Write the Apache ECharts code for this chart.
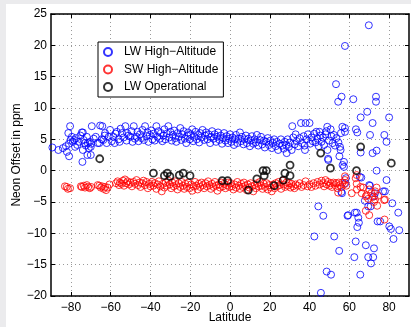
<!DOCTYPE html>
<html>
<head>
<meta charset="utf-8">
<script src="https://cdn.jsdelivr.net/npm/echarts@6/dist/echarts.min.js"></script>
<style>
  html, body { margin: 0; padding: 0; background: #ebebed; }
  #paper { position: absolute; left: 6px; top: 4px; width: 405px; height: 323px; background: #fff; }
  #main { position: absolute; left: 0; top: 0; width: 411px; height: 327px; }
</style>
</head>
<body>
<div id="paper"></div>
<div id="main"></div>
<script>
// tick labels
const xTicks = [-80, -60, -40, -20, 0, 20, 40, 60, 80];
const yTicks = [-20, -15, -10, -5, 0, 5, 10, 15, 20, 25];

// LW High-Altitude  [latitude, offset ppm]
const lwHigh = [
  [-89.3,3.7],[-86.3,3.3],[-84,3.6],[-82.5,3.9],[-82,3.0],[-81.3,6.0],[-81,4.3],[-80.9,2.3],[-80.4,7.1],[-80.2,4.9],
  [-79.5,5.4],[-79,4.6],[-78.4,4.9],[-77.9,3.8],[-77.5,5.2],[-76.8,4.1],[-76,4.6],[-75.2,5.6],[-74.5,6.1],[-74.2,1.4],
  [-74,3.3],[-74,6.1],[-73.6,4.9],[-73,4.4],[-72.5,4.0],[-72,5.4],[-71.7,2.5],[-71.5,4.4],[-71,3.6],[-70.5,4.6],
  [-70,2.5],[-70,3.8],[-69.8,4.3],[-69.5,7.1],[-68.5,5.1],[-67.5,5.4],[-66.5,4.4],[-65.7,4.4],[-65.3,7.2],[-64.5,5.0],
  [-64.2,7.1],[-63.7,4.9],[-63,5.6],[-62.8,6.0],[-62,4.4],[-61,5.4],[-60.3,6.5],[-59.5,4.7],[-58.6,5.4],[-58,4.4],
  [-57.5,5.9],[-56.9,6.2],[-56,5.0],[-55.5,4.6],[-55,6.7],[-54.3,6.0],[-53.5,5.3],[-52.6,7.1],[-52,4.8],[-51.8,6.0],
  [-51,5.6],[-50,5.4],[-49.5,6.3],[-49,4.6],[-48.4,7.1],[-47.8,5.1],[-47,5.4],[-46.5,6.2],[-46,4.7],[-45.3,5.8],
  [-44.5,5.2],[-44,6.5],[-43.3,4.9],[-42.7,7.1],[-42,5.5],[-41.5,6.1],[-41,4.6],[-40.3,5.7],[-39.5,6.4],[-39,5.0],
  [-38.5,5.9],[-37.8,4.8],[-37,7.1],[-36.5,5.4],[-36,6.3],[-35.3,5.1],[-34.7,6.0],[-34,4.7],[-33.5,5.6],[-33,6.6],
  [-32.5,5.0],[-31.8,5.9],[-31,7.1],[-30.5,5.3],[-30,6.2],[-29.3,4.8],[-28.7,5.7],[-28,6.4],[-27.5,5.2],[-27,4.6],
  [-26.3,6.0],[-25.7,5.4],[-25,6.8],[-24.5,4.9],[-24,5.8],[-23.3,6.3],[-22.7,5.1],[-22,4.4],[-21.5,5.6],[-21,6.1],
  [-20.3,5.0],[-19.7,5.8],[-19,6.6],[-18.5,4.7],[-18,5.4],[-17.3,6.2],[-16.7,5.0],[-16,5.7],[-15.5,4.5],[-15,6.0],
  [-14.3,5.3],[-13.8,6.5],[-13,4.9],[-12.5,5.6],[-12,6.1],[-11.3,5.0],[-10.7,5.8],[-10,4.4],[-9.5,5.4],[-9,6.3],
  [-8.3,5.1],[-7.7,5.8],[-7,4.6],[-6.5,5.4],[-6,6.1],[-5.3,4.9],[-4.7,5.6],[-4,4.3],[-3.5,5.2],[-3,6.0],
  [-2.3,4.8],[-1.7,5.5],[-1,4.4],[-0.5,5.1],[0,5.8],[0.7,4.6],[1.3,5.3],[2,4.1],[2.5,5.0],[3,5.7],
  [3.7,4.4],[4.3,5.1],[5,6.1],[5.5,4.7],[6,5.4],[6.8,4.2],[7.3,5.0],[8,5.6],[8.5,4.4],[9.2,5.1],
  [10,3.9],[10.5,4.8],[11,5.5],[11.7,4.3],[12.3,5.0],[13,4.5],[13.5,5.7],[14.2,4.0],[15,4.9],[15.6,5.4],
  [16.2,4.2],[17,4.8],[17.5,3.7],[18.2,4.6],[19,5.2],[19.6,4.1],[20.3,4.8],[21,3.6],[21.5,4.4],[22.2,5.0],
  [23,3.9],[23.5,4.6],[24.2,3.3],[25,4.3],[25.6,5.0],[26.3,4.0],[27,3.5],[27.5,4.6],[28.2,4.1],[28.5,2.8],
  [29,5.0],[29.6,3.8],[30.2,4.5],[31,3.3],[31.3,7.1],[31.8,5.3],[32.5,4.2],[33,5.8],[33.6,4.7],[34.3,3.9],
  [35,5.2],[35.7,7.6],[36.2,4.4],[37,5.5],[37.5,4.0],[37.7,3.3],[38,7.6],[38.5,5.0],[39.2,5.8],[40,7.6],
  [40.3,4.3],[41,5.3],[41.6,4.7],[42.3,5.9],[43,4.5],[43.4,6.2],[44,5.1],[44.6,3.9],[45,6.2],[45.4,5.6],
  [46,4.6],[46.7,5.3],[47.3,4.1],[48,5.8],[48.5,6.3],[48.9,7.0],[49,3.3],[49.3,1.9],[49.4,1.7],[49.8,4.8],
  [50.6,6.6],[51,5.5],[51.6,4.4],[52.2,5.7],[52.8,4.0],[53.5,5.2],[54.5,4.5],[55.3,3.8],[55.6,3.3],[55,2.3],
  [55.8,6.0],[56.6,0.9],[57.3,1.4],[57.3,0.6],[57.8,6.8],[57.8,6.2],[56.5,7.0],[63.3,6.6],[64,6.1],[65.7,2.9],
  [71.7,2.8],[73.7,3.2],[70.4,5.7],[77.6,5.7],[78.7,4.6],[65.7,8.5],[69,9.4],[71.7,7.6],[80,8.5],
  [53.3,13.8],[54.4,11.0],[56.1,11.8],[57.8,19.9],[62,11.4],[69.8,23.2],[73.4,11.8],[73.4,11.0],
  [58.3,-1.2],[56,-3.4],[56.3,-3.6],[58,-2.0],[59.4,-7.1],[59.1,-7.2],[62.8,-6.7],[63.7,-6.7],[64.5,-7.5],[64.8,-8.3],
  [64,-9.0],[65.3,-1.0],[66,-1.1],[67.8,-4.8],[69.5,-5.7],[70.7,-5.7],[70,-2.3],[70.4,-2.4],[72.4,-4.1],[72.9,-3.6],
  [73.7,0],[77,-3.3],[77.9,-3.3],[78.7,-1.5],[81.6,-5.2],[84.6,-6.7],[74.2,-8.1],[75.5,-8.1],[80.1,-8.9],[80.9,-9.3],
  [85.1,-9.5],[82.2,-10.9],[42.4,-10.5],[44.4,-5.7],[46.9,-7.2],[52.4,-10.5],[54.9,-12.8],[63.2,-11.3],[62.5,-13.8],
  [68.3,-11.9],[72.4,-12.4],[69.5,-13.8],[72,-13.8],[70.9,-14.8],[48.6,-16.1],[50.8,-16.6],[65.5,-16.6],[45.7,-19.5]
];

// SW High-Altitude
const swHigh = [
  [-83,-2.5],[-82.1,-2.6],[-81.5,-2.9],[-80.4,-2.8],[-75,-2.5],[-74.5,-2.6],[-73.5,-2.4],[-72.9,-2.7],[-72,-2.3],[-71.3,-2.6],
  [-70.5,-2.8],[-69.8,-2.6],[-66.5,-2.3],[-65.7,-2.4],[-65,-2.7],[-64.3,-2.5],[-63.5,-2.9],[-62.8,-2.6],[-62.3,-3.1],[-61.5,-2.7],
  [-60.6,-2.2],[-57.3,-2.0],[-56.5,-1.7],[-55.8,-2.3],[-55.3,-1.9],[-54.5,-2.1],[-53.8,-1.6],[-53.3,-2.4],[-52.8,-1.4],[-52.2,-2.0],
  [-51.5,-1.7],[-50.8,-2.2],[-50,-1.9],[-49.3,-2.5],[-48.5,-1.8],[-47.8,-2.1],[-47,-1.5],[-46.3,-2.3],[-45.5,-1.9],[-45,-2.6],
  [-44.2,-2.0],[-43.5,-1.6],[-42.8,-2.3],[-42,-1.8],[-41.3,-2.8],[-40.5,-2.1],[-40,-2.5],[-39.2,-1.8],[-38.5,-2.4],[-37.8,-2.0],
  [-37,-2.9],[-36.4,-2.2],[-35.8,-1.7],[-35,-2.5],[-34.3,-3.3],[-33.7,-2.1],[-33,-2.7],[-32.3,-1.9],[-31.7,-2.4],[-31,-1.6],
  [-30.3,-2.2],[-29.6,-2.8],[-29,-1.9],[-28.3,-2.5],[-27.6,-1.7],[-27,-2.3],[-26.4,-3.0],[-25.8,-2.0],[-25,-2.6],[-24.3,-1.8],
  [-23.6,-2.4],[-23,-2.9],[-22.4,-2.1],[-21.7,-2.6],[-21,-1.9],[-20.3,-2.8],[-19.6,-2.2],[-19,-3.2],[-18.3,-2.5],[-17.6,-1.8],
  [-17,-2.4],[-16.3,-3.0],[-15.7,-2.1],[-15,-2.6],[-14.3,-1.9],[-13.6,-2.3],[-13,-2.8],[-12.3,-2.0],[-11.6,-2.5],[-11,-1.7],
  [-10.3,-2.3],[-9.6,-2.9],[-9,-2.1],[-8.3,-2.6],[-7.6,-1.8],[-7,-2.4],[-6.3,-3.2],[-5.6,-2.2],[-5,-2.7],[-4.3,-1.9],
  [-3.6,-2.5],[-3,-2.1],[-2.3,-2.8],[-1.6,-2.3],[-1,-1.9],[-0.3,-2.6],[0.4,-2.0],[1,-2.5],[1.7,-3.0],[2.4,-2.2],
  [3,-2.7],[3.7,-1.8],[4.4,-2.4],[5,-2.9],[5.7,-2.1],[6.4,-2.6],[7,-1.9],[7.7,-2.4],[8.4,-3.1],[9,-2.2],
  [9.7,-2.7],[10.4,-2.0],[11,-2.5],[11.7,-3.3],[12.4,-2.3],[13,-2.8],[13.7,-2.0],[14.4,-2.5],[15,-1.8],[15.7,-2.4],
  [16.4,-2.9],[17,-2.1],[17.7,-2.6],[18.4,-2.0],[19,-3.0],[19.7,-2.3],[20.4,-2.7],[21,-3.3],[21.7,-2.2],[22.4,-2.8],
  [23,-2.0],[23.7,-2.5],[24.4,-1.8],[25,-2.3],[25.7,-2.9],[26.4,-1.6],[27,-2.2],[27.7,-2.6],[28.4,-1.9],[29,-2.4],
  [29.7,-2.0],[30.4,-2.7],[31,-2.1],[31.7,-2.5],[32.4,-2.8],[33,-2.2],[34,-2.4],[35,-2.0],[36,-2.6],[37,-2.3],
  [38,-1.7],[39,-2.5],[40,-2.2],[41,-2.6],[42,-2.0],[43,-2.4],[44,-1.8],[45,-2.2],[46,-1.6],[46.7,-2.0],
  [47.3,-2.5],[48,-1.5],[48.6,-2.2],[49.3,-1.8],[50,-2.4],[50.6,-2.0],[51.3,-2.6],[52,-1.9],[52.7,-2.3],[53.3,-2.0],
  [54,-2.8],[54.4,-3.5],[54.6,-1.9],[55.3,-2.3],[56,-2.6],[56.6,-1.9],[57.3,-2.2],[57.8,-0.9],[57.8,-1.5],[58.5,-2.4],
  [61.2,-3.6],[63.2,-1.2],[63.7,-0.7],[63.7,-2.1],[63.8,-3.0],[65.7,-2.6],[66.2,-3.6],[67,-2.7],[68.3,-4.1],[68.3,-6.4],
  [68.7,-3.9],[69.5,-4.5],[70,-3.0],[70,-7.1],[71,-3.6],[71.7,-4.2],[72.4,-5.0],[72.9,-4.6],[73,-3.3],[73.7,-2.7],
  [74,-5.6],[74.5,-4.0],[77.5,-4.7],[77.9,-4.6],[77.7,-7.8]
];

// LW Operational
const lwOper = [
  [-65.5,1.9],[-38.5,-0.4],[-33,-0.8],[-31.5,-0.4],[-30.2,-0.9],[-25.5,-0.7],[-23.5,-0.4],[-20.1,-0.8],
  [-3.9,-1.6],[-1.2,-1.6],[9.2,-3.1],[13.5,-1.3],[16.6,0],[18.3,0],[17.2,-0.8],[22.2,-2.4],
  [26.8,-1.5],[27.6,-0.4],[30.2,0.9],[30.2,-0.8],[45.6,2.8],[50.5,0.4],[63.6,0],[65.7,3.8],[81.1,1.2]
];

const FONT = '"Liberation Sans", Arial, Helvetica, sans-serif';
const minus = v => String(v).replace('-', '\u2212');

const chart = echarts.init(document.getElementById('main'), null, { renderer: 'canvas' });

const axisLineStyle = { color: '#000', width: 1.5 };
const splitStyle = { show: true, lineStyle: { color: '#9a9a9a', type: [1, 3], width: 1 } };

chart.setOption({
  backgroundColor: 'transparent',
  animation: false,
  textStyle: { fontFamily: FONT },
  grid: { left: 51, right: 2, top: 14, bottom: 31, outerBoundsMode: 'none', containLabel: false },
  legend: {
    orient: 'vertical',
    left: 98,
    top: 42,
    padding: [3, 5, 3, 5],
    itemGap: 3.5,
    itemWidth: 22,
    itemHeight: 8,
    backgroundColor: '#fff',
    borderColor: '#000',
    borderWidth: 1,
    textStyle: { fontSize: 12, color: '#000', fontFamily: FONT, lineHeight: 14 },
    data: ['LW High\u2212Altitude', 'SW High\u2212Altitude', 'LW Operational']
  },
  xAxis: [{
    type: 'value', min: -90, max: 90,
    axisLine: { onZero: false, lineStyle: axisLineStyle },
    axisTick: { inside: true, length: 4, lineStyle: { color: '#000' }, customValues: xTicks },
    axisLabel: { color: '#000', fontSize: 12, margin: 6, customValues: xTicks, formatter: minus },
    splitLine: splitStyle,
    name: 'Latitude', nameLocation: 'middle', nameGap: 16, nameMoveOverlap: false,
    nameTextStyle: { color: '#000', fontSize: 12 }
  }, {
    type: 'value', min: -90, max: 90, position: 'top',
    axisLine: { onZero: false, lineStyle: axisLineStyle },
    axisTick: { inside: true, length: 4, lineStyle: { color: '#000' }, customValues: xTicks },
    axisLabel: { show: false, customValues: xTicks },
    splitLine: { show: false }
  }],
  yAxis: [{
    type: 'value', min: -20, max: 25, interval: 5,
    axisLine: { onZero: false, lineStyle: axisLineStyle },
    axisTick: { inside: true, length: 4, lineStyle: { color: '#000' } },
    axisLabel: { color: '#000', fontSize: 12, margin: 4, formatter: minus },
    splitLine: splitStyle,
    name: 'Neon Offset in ppm', nameLocation: 'middle', nameGap: 28, nameRotate: 90, nameMoveOverlap: false,
    nameTextStyle: { color: '#000', fontSize: 12 }
  }, {
    type: 'value', min: -20, max: 25, interval: 5, position: 'right',
    axisLine: { onZero: false, lineStyle: axisLineStyle },
    axisTick: { inside: true, length: 4, lineStyle: { color: '#000' } },
    axisLabel: { show: false },
    splitLine: { show: false }
  }],
  series: [{
    name: 'LW High\u2212Altitude', type: 'scatter', data: lwHigh,
    symbol: 'circle', symbolSize: 7,
    itemStyle: { color: 'rgba(0,0,0,0)', borderColor: '#0000ff', borderWidth: 1 }
  }, {
    name: 'SW High\u2212Altitude', type: 'scatter', data: swHigh,
    symbol: 'circle', symbolSize: 7,
    itemStyle: { color: 'rgba(0,0,0,0)', borderColor: '#ff0000', borderWidth: 1 }
  }, {
    name: 'LW Operational', type: 'scatter', data: lwOper,
    symbol: 'circle', symbolSize: 7,
    itemStyle: { color: 'rgba(0,0,0,0)', borderColor: '#000', borderWidth: 1.8 }
  }]
});
</script>
</body>
</html>
